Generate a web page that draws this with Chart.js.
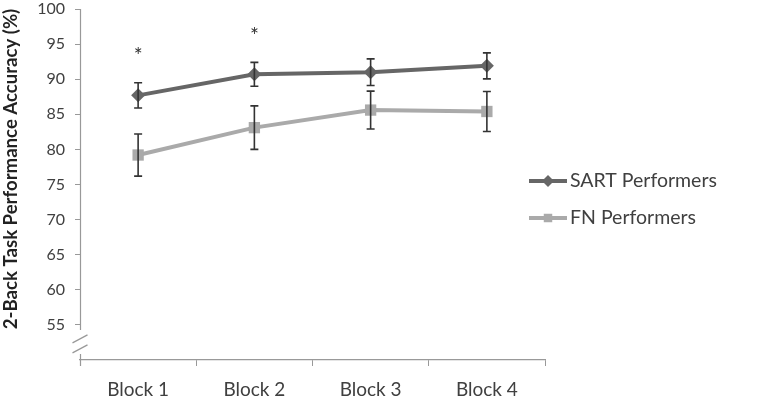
<!DOCTYPE html>
<html><head><meta charset="utf-8">
<script src="https://cdn.jsdelivr.net/npm/chart.js@4/dist/chart.umd.min.js"></script>
<style>html,body{margin:0;padding:0;background:#fff}#wrap{width:779px;height:406px}</style>
</head><body><div id="wrap"><canvas id="c" width="779" height="406"></canvas></div>
<script>
const categories = ['Block 1','Block 2','Block 3','Block 4'];
const sartValues = [87.7, 90.7, 91.0, 91.9];
const sartErrors = [1.8, 1.7, 1.9, 1.85];
const fnValues = [79.2, 83.1, 85.6, 85.4];
const fnErrors = [3.0, 3.1, 2.7, 2.85];
const sigMarks = ['*','*','',''];
const yTicks = [55,60,65,70,75,80,85,90,95,100];
const yTitle = '2-Back Task Performance Accuracy (%)';
const FONT = 'Lato, "Open Sans", sans-serif';
const TXT = '#404040';

const custom = {
  id:'custom',
  afterDatasetsDraw(chart){
    const ctx = chart.ctx, x = chart.scales.x, y = chart.scales.y;
    ctx.save();
    ctx.strokeStyle = '#333'; ctx.lineWidth = 1.6;
    [[sartValues,sartErrors],[fnValues,fnErrors]].forEach(([v,e])=>{
      v.forEach((val,i)=>{
        const px = x.getPixelForValue(i);
        const t = y.getPixelForValue(val+e[i]), b = y.getPixelForValue(val-e[i]);
        ctx.beginPath();
        ctx.moveTo(px,t); ctx.lineTo(px,b);
        ctx.moveTo(px-4,t); ctx.lineTo(px+4,t);
        ctx.moveTo(px-4,b); ctx.lineTo(px+4,b);
        ctx.stroke();
      });
    });
    ctx.restore();
  },
  afterDraw(chart){
    const ctx = chart.ctx, x = chart.scales.x, y = chart.scales.y;
    const ca = chart.chartArea;
    ctx.save();
    ctx.strokeStyle = '#999'; ctx.lineWidth = 1.2;
    const ax = Math.round(ca.left)+0.5;
    const y55 = y.getPixelForValue(55);
    ctx.beginPath();
    ctx.moveTo(ax, ca.top); ctx.lineTo(ax, y55+5);
    ctx.moveTo(ax, ca.bottom-6); ctx.lineTo(ax, ca.bottom+6);
    ctx.stroke();
    ctx.beginPath();
    ctx.moveTo(ax-8, y55+18); ctx.lineTo(ax+7, y55+10);
    ctx.moveTo(ax-8, y55+28); ctx.lineTo(ax+7, y55+20);
    ctx.stroke();
    ctx.fillStyle = '#333'; ctx.font = '21px ' + FONT;
    ctx.textAlign = 'center'; ctx.textBaseline = 'middle';
    sigMarks.forEach((m,i)=>{
      if(!m) return;
      const px = x.getPixelForValue(i);
      const py = y.getPixelForValue(sartValues[i]+sartErrors[i]) - 26;
      ctx.fillText(m, px, py);
    });
    ctx.save();
    ctx.translate(11, 169); ctx.rotate(-Math.PI/2);
    ctx.font = 'bold 18.6px ' + FONT; ctx.fillStyle = '#222';
    ctx.textAlign = 'center'; ctx.textBaseline = 'middle';
    ctx.fillText(yTitle, 0, 0);
    ctx.restore();
    const items = [
      {label: chart.data.datasets[0].label, color:'#666', style:'rectRot', r:6},
      {label: chart.data.datasets[1].label, color:'#aaa', style:'rect', r:6}
    ];
    items.forEach((it,k)=>{
      const ly = 181 + k*37;
      ctx.strokeStyle = it.color; ctx.lineWidth = 4;
      ctx.beginPath(); ctx.moveTo(529, ly); ctx.lineTo(567, ly); ctx.stroke();
      ctx.fillStyle = it.color;
      Chart.helpers.drawPoint(ctx, {pointStyle: it.style, radius: it.r, borderWidth: 0}, 548, ly);
      ctx.fillStyle = TXT; ctx.font = '19.5px ' + FONT;
      ctx.textAlign = 'left'; ctx.textBaseline = 'middle';
      ctx.fillText(it.label, 570, ly);
    });
    ctx.restore();
  }
};

new Chart(document.getElementById('c'), {
  type:'line',
  data:{
    labels: categories,
    datasets:[
      {label:'SART Performers', data:sartValues, borderColor:'#666', backgroundColor:'#666',
       borderWidth:4, pointStyle:'rectRot', pointRadius:7, pointHoverRadius:7, pointBorderWidth:0, tension:0},
      {label:'FN Performers', data:fnValues, borderColor:'#aaa', backgroundColor:'#aaa',
       borderWidth:4, pointStyle:'rect', pointRadius:8, pointHoverRadius:8, pointBorderWidth:0, tension:0}
    ]
  },
  plugins:[custom],
  options:{
    responsive:false, animation:false,
    layout:{padding:{left:0, right:234, top:0, bottom:0}},
    plugins:{legend:{display:false}, tooltip:{enabled:false}},
    scales:{
      x:{
        offset:true,
        afterFit(s){ s.height = 46; },
        grid:{offset:true, drawOnChartArea:false, drawTicks:true, tickLength:6, color:'#999'},
        border:{display:true, color:'#999', width:1.2},
        ticks:{color:TXT, font:{family:FONT, size:19}, padding:12}
      },
      y:{
        min:50, max:100,
        afterFit(s){ s.width = 80; s.paddingTop = 9; },
        afterBuildTicks(s){ s.ticks = yTicks.map(v=>({value:v})); },
        grid:{drawOnChartArea:false, drawTicks:true, tickLength:5, color:'#999'},
        border:{display:false},
        ticks:{color:TXT, font:{family:FONT, size:16}, padding:10}
      }
    }
  }
});
</script>
</body></html>
